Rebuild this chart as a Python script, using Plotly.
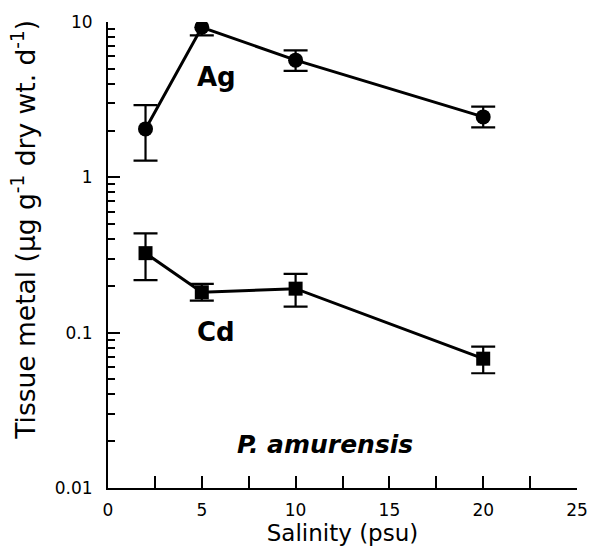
import plotly.graph_objects as go

salinity = [2, 5, 10, 20]
ag_mean = [2.05, 9.25, 5.68, 2.45]
ag_hi = [2.92, 10.6, 6.57, 2.85]
ag_lo = [1.28, 8.19, 4.85, 2.10]
cd_mean = [0.325, 0.182, 0.192, 0.068]
cd_hi = [0.436, 0.206, 0.239, 0.0814]
cd_lo = [0.218, 0.161, 0.147, 0.0548]

x_ticks = [0, 5, 10, 15, 20, 25]
y_ticks = [0.01, 0.1, 1, 10]
y_ticklabels = ["0.01", "0.1", "1", "10"]
y_minor = [m * d for d in [0.01, 0.1, 1] for m in range(2, 10)]

FONT = "DejaVu Sans, sans-serif"

def errs(mean, hi, lo):
    return ([h - m for h, m in zip(hi, mean)], [m - l for m, l in zip(mean, lo)])

fig = go.Figure()
for mean, hi, lo, sym, size in [(ag_mean, ag_hi, ag_lo, "circle", 15), (cd_mean, cd_hi, cd_lo, "square", 14)]:
    up, dn = errs(mean, hi, lo)
    fig.add_trace(go.Scatter(
        x=salinity, y=mean, mode="lines+markers",
        line=dict(color="black", width=3),
        marker=dict(symbol=sym, size=size, color="black"),
        error_y=dict(type="data", symmetric=False, array=up, arrayminus=dn,
                     color="black", thickness=2.2, width=12),
        showlegend=False,
    ))

fig.update_xaxes(
    range=[0, 25], tickvals=x_ticks, ticks="inside", ticklen=12, tickwidth=1.8,
    tickcolor="black", showline=True, linecolor="black", linewidth=2,
    showgrid=False, zeroline=False, tickfont=dict(family=FONT, size=17, color="black"),
    minor=dict(dtick=2.5, tick0=0, ticks="inside", ticklen=12, tickwidth=1.8, tickcolor="black"),
    title=dict(text="Salinity (psu)", font=dict(family=FONT, size=23, color="black"), standoff=4),
    ticklabelstandoff=6,
)
fig.update_yaxes(
    type="log", range=[-2, 1], tickvals=y_ticks, ticktext=y_ticklabels,
    ticks="inside", ticklen=12, tickwidth=1.8, tickcolor="black",
    showline=True, linecolor="black", linewidth=2, showgrid=False, zeroline=False,
    tickfont=dict(family=FONT, size=17, color="black"),
    minor=dict(tickvals=y_minor, ticks="inside", ticklen=7, tickwidth=1.8, tickcolor="black"),
    ticklabelstandoff=10,
)

annos = [
    dict(text="<b>Ag</b>", x=5.78, y=0.648, size=26),
    dict(text="<b>Cd</b>", x=5.76, y=-0.996, size=26),
    dict(text="<b><i>P. amurensis</i></b>", x=11.55, y=-1.718, size=25),
]
for a in annos:
    fig.add_annotation(text=a["text"], x=a["x"], y=a["y"], xref="x", yref="y",
                       showarrow=False, xanchor="center", yanchor="middle",
                       font=dict(family=FONT, size=a["size"], color="black"))

fig.add_annotation(text="Tissue metal (µg g<sup>-1</sup> dry wt. d<sup>-1</sup>)",
                   xref="paper", yref="paper", x=-0.178, y=0.553, textangle=-90,
                   showarrow=False, xanchor="center", yanchor="middle",
                   font=dict(family=FONT, size=26.5, color="black"))

fig.update_layout(
    width=600, height=553, paper_bgcolor="white", plot_bgcolor="white",
    margin=dict(l=108, r=20, t=19, b=64),
)
fig.write_html("out.html")
